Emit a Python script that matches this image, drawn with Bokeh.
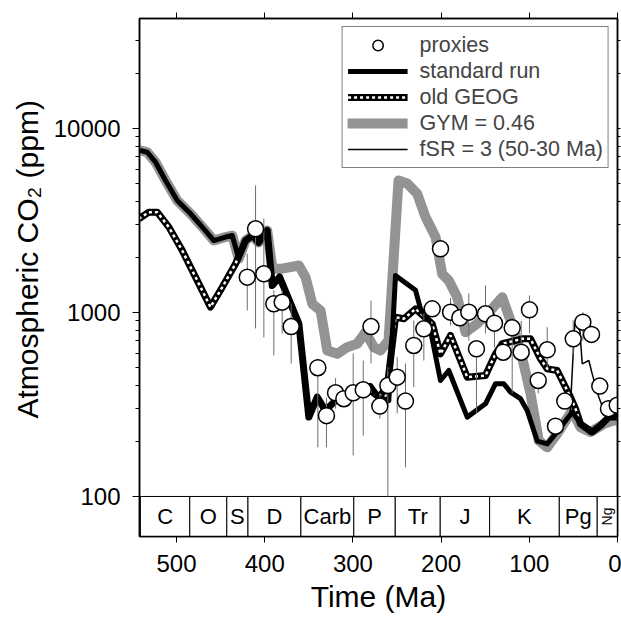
import numpy as np
from bokeh.plotting import figure
from bokeh.models import (Range1d, LogAxis, LinearAxis, FixedTicker, PrintfTickFormatter,
                          Legend, LegendItem, Title)
from bokeh.embed import file_html
from bokeh.resources import INLINE
from bokeh.core.properties import value

FONT = "Liberation Sans"

# ---------------- data ----------------
std_age = [541.4, 533.2, 523.8, 512.5, 499.2, 484.1, 469.0, 457.7, 444.4, 436.8, 429.4, 421.8,
           413.8, 407.0, 397.2, 391.5, 383.2, 361.3, 350.0, 340.5, 331.1, 319.7, 306.5, 287.6,
           280.0, 270.6, 259.3, 251.7, 229.0, 223.4, 214.3, 200.7, 191.3, 170.4, 149.7, 138.3,
           128.9, 121.3, 110.0, 102.4, 91.0, 79.7, 70.3, 51.4, 38.2, 30.6, 19.3, 9.9, 0.0]
std_co2 = [7600, 7430, 6560, 5220, 4060, 3440, 2850, 2460, 2570, 2620, 1960, 2460,
           2620, 2400, 2790, 1400, 1560, 870, 270, 347, 293, 332, 362, 401,
           401, 347, 332, 1590, 1320, 1050, 905, 427, 484, 270, 319, 410,
           410, 369, 340, 293, 200, 193, 219, 287, 238, 223, 243, 270, 276]

gym_age = [541.4, 533.2, 523.8, 512.5, 499.2, 484.1, 469.0, 457.7, 444.4, 436.8, 429.4, 421.8,
           413.8, 407.0, 397.2, 391.2, 380.2, 361.3, 353.7, 346.1, 336.7, 329.1, 317.8, 306.5,
           295.1, 285.7, 276.3, 268.7, 259.6, 248.3, 238.4, 227.1, 217.7, 206.3, 198.8, 191.3,
           181.7, 172.3, 159.1, 144.0, 130.7, 121.3, 110.0, 98.6, 89.2, 79.7, 68.4, 51.4,
           42.0, 30.6, 15.5, 4.2, 0.0]
gym_co2 = [7600, 7430, 6560, 5220, 4060, 3440, 2850, 2460, 2570, 2620, 1960, 2460,
           2620, 2400, 2790, 1730, 1730, 1800, 1555, 1115, 1025, 622, 596, 648,
           676, 781, 648, 622, 705, 5220, 5020, 4420, 3300, 2570, 1620, 1490,
           1210, 781, 868, 1025, 1210, 905, 622, 362, 201, 185, 219, 293,
           238, 224, 248, 259, 259]

geog_age = [542.7, 531.4, 521.9, 508.7, 493.5, 476.5, 461.5, 448.2, 433.1, 421.8, 413.8, 407.0,
            397.2, 391.5, 383.2, 361.3, 350.0, 340.5, 331.1, 319.7, 306.5, 287.6, 270.6, 261.1,
            251.7, 242.3, 229.0, 210.1, 200.7, 189.3, 170.4, 149.7, 138.3, 130.7, 108.0, 98.6,
            87.3, 79.7, 68.4, 60.9, 53.3, 47.6, 42.0, 28.7, 19.3, 9.9, 0.0]
geog_co2 = [3230, 3510, 3510, 2910, 2170, 1490, 1070, 1370, 1840, 2460, 2620, 2400,
            2790, 1400, 1560, 870, 270, 347, 293, 332, 362, 401, 347, 393,
            943, 924, 1047, 868, 596, 750, 445, 454, 596, 676, 719, 719,
            560, 494, 484, 410, 347, 300, 248, 224, 243, 270, 270]

fsr_age = [53.7, 48.4, 42.7, 40.0, 32.5, 28.7, 21.2, 15.5, 12.0]
fsr_co2 = [287, 886, 798, 526, 548, 464, 347, 293, 275]

px_age = [419.8, 410.4, 401.0, 389.7, 380.2, 370.0, 339.8, 330.0, 319.7, 310.3, 299.7, 288.3,
          279.5, 269.5, 260.4, 249.8, 240.4, 231.0, 219.6, 210.1, 200.7, 189.3, 178.8, 168.6,
          159.9, 149.7, 139.5, 129.6, 119.4, 109.2, 99.8, 89.9, 79.7, 70.3, 59.8, 50.2,
          39.3, 29.5, 20.1, 10.2, 0.3]
px_co2 = [1556, 2850, 1623, 1115, 1138, 839, 501, 275, 366, 340, 366, 380,
          839, 310, 401, 445, 330, 662, 815, 1047, 2218, 1004, 936, 1004,
          635, 984, 875, 608, 826, 608, 1034, 427, 627, 241, 330, 719,
          886, 760, 398, 300, 313]
px_lo = [1025, 819, 731, 584, 769, 528, 185, 185, 300, 340, 167, 214,
         528, 265, 100, 283, 144, 393, 548, 1047, 2218, 850, 936, 704,
         283, 769, 645, 608, 363, 608, 770, 363, 504, 241, 330, 596,
         704, 760, 398, 300, 313]
px_hi = [2090, 4900, 3240, 1317, 1317, 1119, 560, 345, 440, 340, 599, 548,
         1162, 363, 504, 571, 528, 905, 988, 1047, 2218, 1200, 936, 1270,
         700, 1402, 988, 608, 928, 900, 1237, 470, 832, 241, 330, 905,
         1004, 760, 398, 300, 313]

per_names = ["C", "O", "S", "D", "Carb", "P", "Tr", "J", "K", "Pg"]
per_start = [541, 485, 443, 419, 359, 299, 252, 201, 145, 66]
per_end = [485, 443, 419, 359, 299, 252, 201, 145, 66, 23]
ng_name = ["Ng"]
ng_start = [23]
ng_end = [0]

x_ticks = [500, 400, 300, 200, 100, 0]
y_ticks = [100, 1000, 10000]
y_minor = [200, 300, 400, 500, 600, 700, 800, 900,
           2000, 3000, 4000, 5000, 6000, 7000, 8000, 9000, 20000, 30000]

Y0, Y1 = 60.6, 39610

# ---------------- figure ----------------
p = figure(width=621, height=623, output_backend="svg", toolbar_location=None,
           y_axis_type="log", x_range=Range1d(542, 0), y_range=Range1d(Y0, Y1),
           min_border_left=139, min_border_top=18, min_border_bottom=87, min_border_right=4)
p.grid.visible = False
p.outline_line_color = "black"
p.outline_line_width = 1.5
p.background_fill_color = "white"

xt = FixedTicker(ticks=x_ticks, minor_ticks=[])
yt = FixedTicker(ticks=y_ticks, minor_ticks=y_minor)

for ax in p.xaxis:
    ax.ticker = xt
    ax.major_label_text_font = FONT
    ax.major_label_text_font_size = "24px"
    ax.major_label_text_color = "black"
    ax.major_tick_out = 6
    ax.major_tick_in = 0
    ax.minor_tick_out = 0
    ax.minor_tick_in = 0
    ax.major_label_standoff = 12
    ax.axis_label = "Time (Ma)"
    ax.axis_label_text_font = FONT
    ax.axis_label_text_font_size = "30px"
    ax.axis_label_text_font_style = "normal"
    ax.axis_label_text_color = "black"
    ax.axis_label_standoff = 5
    ax.axis_line_width = 1.5

for ax in p.yaxis:
    ax.ticker = yt
    ax.formatter = PrintfTickFormatter(format="%d")
    ax.major_label_text_font = FONT
    ax.major_label_text_font_size = "24px"
    ax.major_label_text_color = "black"
    ax.major_tick_out = 7
    ax.major_tick_in = 0
    ax.minor_tick_out = 4
    ax.minor_tick_in = 0
    ax.major_label_standoff = 12
    ax.axis_line_width = 1.5

p.add_layout(Title(text="Atmospheric CO\u2082 (ppm)", align="left", text_font=FONT,
                   text_font_size="30px", text_font_style="normal", text_color="black",
                   offset=118, standoff=14), "left")

top = LinearAxis(ticker=xt, major_tick_out=6, major_tick_in=0,
                 minor_tick_out=0, minor_tick_in=0, major_label_standoff=0, axis_line_width=1.5,
                 major_label_overrides={t: "" for t in x_ticks})
p.add_layout(top, "above")
right = LogAxis(ticker=yt, major_tick_out=3, major_tick_in=0,
                minor_tick_out=3, minor_tick_in=0, major_label_standoff=0, axis_line_width=1.5,
                major_label_overrides={t: "" for t in y_ticks})
p.add_layout(right, "right")

# ---------------- geological periods strip ----------------
p.quad(left=per_start + ng_start, right=per_end + ng_end, bottom=Y0 * 0.5, top=100,
       fill_color="white", line_color="black", line_width=1)
lab_y = float(np.sqrt(100 * Y0))
p.text(x=[(a + b) / 2 for a, b in zip(per_start, per_end)], y=[lab_y] * len(per_names),
       text=per_names, text_align="center", text_baseline="middle",
       text_font=value(FONT), text_font_size="22px", text_color="black")
p.text(x=[(a + b) / 2 for a, b in zip(ng_start, ng_end)], y=[lab_y], text=ng_name, angle=np.pi / 2,
       text_align="center", text_baseline="middle",
       text_font=value(FONT), text_font_size="14px", text_color="black")

# ---------------- lines ----------------
r_gym = p.line(gym_age, gym_co2, line_color="#939393", line_width=10, line_join="round", line_cap="round")
r_geog_b = p.line(geog_age, geog_co2, line_color="black", line_width=7, line_join="round")
r_geog_w = p.line(geog_age, geog_co2, line_color="white", line_width=2.5, line_dash="3 3")
r_std = p.line(std_age, std_co2, line_color="black", line_width=5, line_join="round")
r_fsr = p.line(fsr_age, fsr_co2, line_color="black", line_width=1.5)

p.segment(x0=px_age, y0=px_lo, x1=px_age, y1=px_hi, line_color="#6e6e6e", line_width=1)
r_px = p.scatter(px_age, px_co2, size=16, fill_color="white", line_color="black", line_width=1.5)

legend = Legend(items=[
    LegendItem(label="proxies", renderers=[r_px]),
    LegendItem(label="standard run", renderers=[r_std]),
    LegendItem(label="old GEOG", renderers=[r_geog_b, r_geog_w]),
    LegendItem(label="GYM = 0.46", renderers=[r_gym]),
    LegendItem(label="fSR = 3 (50-30 Ma)", renderers=[r_fsr]),
], location="top_right", label_text_font=FONT, label_text_font_size="21.5px",
    glyph_width=60, glyph_height=26, label_height=26, label_standoff=12,
    padding=5, spacing=0, margin=8, border_line_color="black", border_line_width=1.5,
    background_fill_alpha=1.0)
p.add_layout(legend)

open("out.html", "w").write(file_html(p, INLINE))
